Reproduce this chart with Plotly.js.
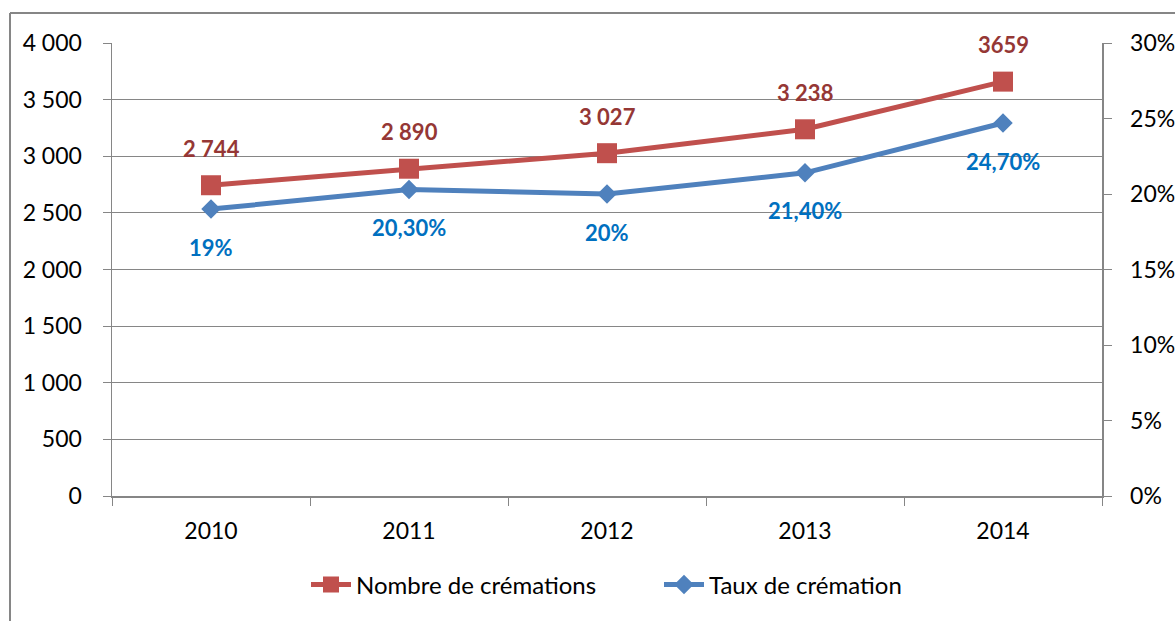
<!DOCTYPE html>
<html>
<head>
<meta charset="utf-8">
<script src="https://cdn.plot.ly/plotly-3.0.1.min.js"></script>
<style>html,body{margin:0;padding:0;background:#fff;}#chart{width:1175px;height:621px;}</style>
</head>
<body>
<div id="chart"></div>
<script>
const years = ['2010', '2011', '2012', '2013', '2014'];
const nombre = [2744, 2890, 3027, 3238, 3659];
const taux = [19, 20.3, 20, 21.4, 24.7];
const nombreLabels = ['2 744', '2 890', '3 027', '3 238', '3659'];
const tauxLabels = ['19%', '20,30%', '20%', '21,40%', '24,70%'];
const seriesNames = ['Nombre de crémations', 'Taux de crémation'];

const FONT = 'Lato, "Open Sans", sans-serif';
const red = '#C0504D', blue = '#4F81BD';

const traces = [
  {x: years, y: nombre, name: seriesNames[0], type: 'scatter', mode: 'lines+markers',
   line: {color: red, width: 5}, marker: {symbol: 'square', size: 20, color: red}, yaxis: 'y'},
  {x: years, y: taux, name: seriesNames[1], type: 'scatter', mode: 'lines+markers',
   line: {color: blue, width: 5}, marker: {symbol: 'diamond', size: 15, color: blue}, yaxis: 'y2'}
];

const annotations = [];
years.forEach((yr, i) => {
  annotations.push({x: i, y: nombre[i], xref: 'x', yref: 'y', text: nombreLabels[i], showarrow: false,
    yshift: 37, font: {family: FONT, size: 22, color: '#953735', weight: 'bold'}});
  annotations.push({x: i, y: taux[i], xref: 'x', yref: 'y2', text: tauxLabels[i], showarrow: false,
    yshift: -38, font: {family: FONT, size: 22, color: '#0070C0', weight: 'bold'}});
});

const W = 1175, H = 621, ml = 112, mr = 73, mt = 43, mb = 125;
const pw = W - ml - mr, ph = H - mt - mb;
const px2x = p => (p - ml) / pw;
const px2y = p => (H - mb - p) / ph;

const layout = {
  width: W, height: H,
  margin: {l: ml, r: mr, t: mt, b: mb},
  paper_bgcolor: '#fff', plot_bgcolor: '#fff',
  separators: ', ',
  font: {family: FONT, size: 23, color: '#000'},
  showlegend: true,
  legend: {orientation: 'h', x: px2x(306), xanchor: 'left', y: px2y(585), yanchor: 'middle',
    font: {family: FONT, size: 24, color: '#000'}, itemwidth: 40, entrywidth: 298, entrywidthmode: 'pixels',
    tracegroupgap: 0},
  xaxis: {type: 'category', categoryorder: 'array', categoryarray: years, range: [-0.5, 4.5],
    autorange: false, showgrid: false, showline: true, linecolor: '#868686', linewidth: 1.5,
    ticks: 'outside', ticklen: 8, tickcolor: '#868686', tickson: 'boundaries', tickangle: 0,
    ticklabelstandoff: 14, tickfont: {family: FONT, size: 23}, zeroline: false, fixedrange: true},
  yaxis: {range: [0, 4000], autorange: false, dtick: 500, tickformat: ',d', showgrid: true, gridcolor: '#868686', gridwidth: 1,
    showline: true, linecolor: '#868686', linewidth: 1.5, ticks: 'outside', ticklen: 8, tickcolor: '#868686',
    ticklabelstandoff: 16, zeroline: false, tickfont: {family: FONT, size: 23}},
  yaxis2: {range: [0, 30], autorange: false, dtick: 5, ticksuffix: '%', overlaying: 'y', side: 'right', showgrid: false,
    showline: true, linecolor: '#868686', linewidth: 1.5, ticks: 'outside', ticklen: 8, tickcolor: '#868686',
    ticklabelstandoff: 14, zeroline: false, tickfont: {family: FONT, size: 23}},
  annotations: annotations,
  shapes: [
    {type: 'line', xref: 'paper', yref: 'paper', x0: px2x(10), x1: px2x(10), y0: px2y(13), y1: px2y(640),
     line: {color: '#868686', width: 2}},
    {type: 'line', xref: 'paper', yref: 'paper', x0: px2x(10), x1: px2x(1190), y0: px2y(13), y1: px2y(13),
     line: {color: '#868686', width: 2}}
  ]
};

Plotly.newPlot('chart', traces, layout, {displayModeBar: false, staticPlot: true});
</script>
</body>
</html>
